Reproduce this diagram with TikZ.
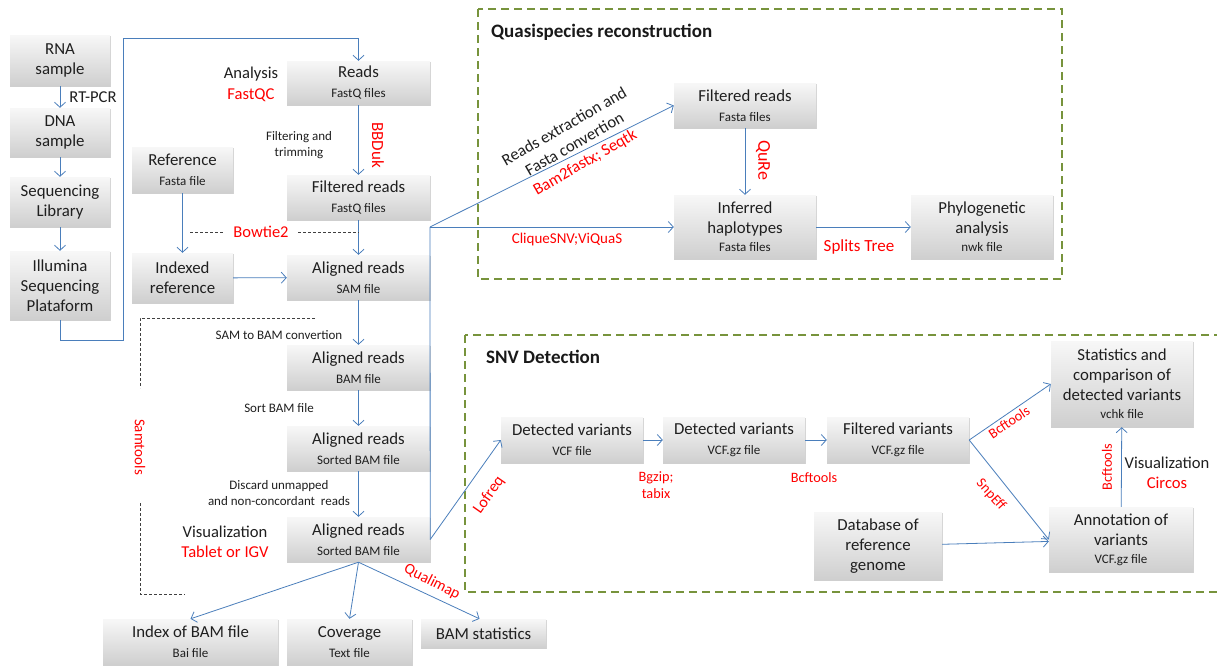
\documentclass[tikz,border=0pt]{standalone}
\usepackage{fontspec}
\setmainfont{Carlito}
\usetikzlibrary{arrows.meta,shadows}
\definecolor{lblue}{HTML}{4A7EBB}
\definecolor{dgreen}{HTML}{77933C}
\definecolor{tred}{HTML}{FF0000}
\newcommand{\subt}[1]{{\fontsize{13}{15}\selectfont #1}}
\begin{document}
\begin{tikzpicture}[x=1pt,y=-1pt,
 box/.style={rectangle, top color=gray!6, bottom color=gray!38, draw=none,
   drop shadow={shadow xshift=1.2pt,shadow yshift=-1.2pt,opacity=0.35,fill=gray},
   align=center, inner sep=1pt, font=\fontsize{16.8}{20}\selectfont, text=black!88},
 link/.style={draw=lblue, line width=0.8pt, -{Straight Barb[length=5pt,width=11pt]}},
 plain/.style={draw=lblue, line width=0.8pt},
 tool/.style={text=tred, font=\fontsize{16.5}{19}\selectfont, inner sep=0pt, align=center},
 smalltool/.style={text=tred, font=\fontsize{14.3}{17}\selectfont, inner sep=0pt, align=center},
 note/.style={text=black!88, font=\fontsize{13}{16}\selectfont, align=center, inner sep=0pt},
 big/.style={text=black!88, font=\fontsize{16.6}{20}\selectfont, inner sep=0pt, align=center},
 guide/.style={draw=black!75, densely dashed, line width=0.6pt},
 group/.style={draw=dgreen, line width=2pt, dash pattern=on 8pt off 5pt},
 grouptitle/.style={font=\bfseries\fontsize{19}{22}\selectfont, anchor=west, inner sep=0pt, text=black!90}
]
\useasboundingbox (0,0) rectangle (1217,667);

% group frames
\draw[group] (478,9) rectangle (1062,279);
\draw[group] (465,335) rectangle (1230,592);
\node[grouptitle] (tq) at (491,32) {Quasispecies reconstruction};
\node[grouptitle] (ts) at (486,357) {SNV Detection};

% left column
\node[box, minimum width=100pt, minimum height=51pt] (rna) at (60,60.5) {RNA\\sample};
\node[box, minimum width=100pt, minimum height=49pt] (dna) at (60,132.5) {DNA\\sample};
\node[box, minimum width=100pt, minimum height=50pt] (lib) at (60,202) {Sequencing\\Library};
\node[box, minimum width=100pt, minimum height=69pt] (illu) at (60,285.5) {Illumina\\Sequencing\\Plataform};

\node[box, minimum width=101pt, minimum height=46pt] (ref) at (182.5,170) {Reference\\\subt{Fasta file}};
\node[box, minimum width=101pt, minimum height=50pt] (idx) at (182.5,278) {Indexed\\reference};

% central column
\node[box, minimum width=143pt, minimum height=44pt] (reads) at (358.5,83) {Reads\\\subt{FastQ files}};
\node[box, minimum width=143pt, minimum height=45pt] (freads) at (358.5,197.5) {Filtered reads\\\subt{FastQ files}};
\node[box, minimum width=143pt, minimum height=45pt] (sam) at (358.5,277.5) {Aligned reads\\\subt{SAM file}};
\node[box, minimum width=143pt, minimum height=45pt] (bam) at (358.5,367.5) {Aligned reads\\\subt{BAM file}};
\node[box, minimum width=143pt, minimum height=45pt] (sorted) at (358.5,448.5) {Aligned reads\\\subt{Sorted BAM file}};
\node[box, minimum width=143pt, minimum height=45pt] (final) at (358.5,539.5) {Aligned reads\\\subt{Sorted BAM file}};

\node[box, minimum width=175pt, minimum height=46pt] (bai) at (190.5,642) {Index of BAM file\\\subt{Bai file}};
\node[box, minimum width=125pt, minimum height=46pt] (cov) at (349.5,642) {Coverage\\\subt{Text file}};
\node[box, minimum width=125pt, minimum height=29pt] (bstat) at (483.5,633.5) {BAM statistics};

% quasispecies
\node[box, minimum width=142pt, minimum height=45pt] (fasta) at (745,105.5) {Filtered reads\\\subt{Fasta files}};
\node[box, minimum width=142pt, minimum height=64pt] (hap) at (745,227) {Inferred\\haplotypes\\[-2pt]\subt{Fasta files}};
\node[box, minimum width=142pt, minimum height=64pt] (phylo) at (982,227) {Phylogenetic\\analysis\\[-2pt]\subt{nwk file}};

% SNV
\node[box, minimum width=142pt, minimum height=46pt] (dv1) at (572,440) {Detected variants\\\subt{VCF file}};
\node[box, minimum width=142pt, minimum height=46pt] (dv2) at (734,440) {Detected variants\\\subt{VCF.gz file}};
\node[box, minimum width=142pt, minimum height=46pt] (fv) at (898,440) {Filtered variants\\\subt{VCF.gz file}};
\node[box, minimum width=128pt, minimum height=68pt] (db) at (878,546) {Database of\\reference\\genome};
\node[box, minimum width=142pt, minimum height=86pt] (st) at (1122,384) {Statistics and\\comparison of\\detected variants\\[-2pt]\subt{vchk file}};
\node[box, minimum width=144pt, minimum height=65pt] (ann) at (1121,539.5) {Annotation of\\variants\\[-2pt]\subt{VCF.gz file}};

% coordinates
\coordinate (c1) at (60,340);
\coordinate (c2) at (123,340);
\coordinate (c3) at (123,38);
\coordinate (c4) at (358.5,38);
\coordinate (br) at (430,227);
\coordinate (b1) at (190,232);
\coordinate (b2) at (224,232);
\coordinate (b3) at (298,232);
\coordinate (b4) at (358.5,232);
\coordinate (s1) at (315,318);
\coordinate (s2) at (140,318);
\coordinate (s3) at (140,388);
\coordinate (s4) at (140,503);
\coordinate (s5) at (140,594);
\coordinate (s6) at (185,594);

% connectors
\draw[link] (rna) -- (dna);
\draw[link] (dna) -- (lib);
\draw[link] (lib) -- (illu);
\draw[link] (illu.south) -- (c1) -- (c2) -- (c3) -- (c4) -- (reads.north);
\draw[link] (reads) -- (freads);
\draw[link] (freads) -- (sam);
\draw[link] (ref) -- (idx);
\draw[link] (idx) -- (sam);
\draw[link] (sam) -- (bam);
\draw[link] (bam) -- (sorted);
\draw[link] (sorted) -- (final);
\draw[link] (final.south) -- (bai.north);
\draw[link] (final.south) -- (cov.north);
\draw[link] (final.south) -- ([xshift=-4pt]bstat.north);
\draw[plain] (final.east) -- (br);
\draw[link] (br) -- (fasta.west);
\draw[link] (br) -- (hap.west);
\draw[link] (fasta) -- (hap);
\draw[link] (hap) -- (phylo);
\draw[link] (final.east) -- (dv1.west);
\draw[link] (dv1) -- (dv2);
\draw[link] (dv2) -- (fv);
\draw[link] (fv.east) -- (st.west);
\draw[link] (fv.east) -- (ann.west);
\draw[link] (db) -- (ann);
\draw[link] (ann) -- (st);

% guides
\draw[guide] (b1) -- (b2);
\draw[guide] (b3) -- (b4);
\draw[guide] (s1) -- (s2) -- (s3);
\draw[guide] (s4) -- (s5) -- (s6);

% labels
\node[big] (lrt) at (93,97) {RT-PCR};
\node[big, font=\fontsize{16.6}{21}\selectfont] (lan) at (251,84) {Analysis\\\textcolor{tred}{FastQC}};
\node[note] (lft) at (299,145) {Filtering and\\trimming};
\node[tool, rotate=-90, font=\fontsize{17}{19}\selectfont] (lbb) at (378,145) {BBDuk};
\node[tool] (lbw) at (261,232) {Bowtie2};
\node[note] (lsb) at (279,335) {SAM to BAM convertion};
\node[note] (lso) at (279,408) {Sort BAM file};
\node[note] (ldi) at (279,493) {Discard unmapped\\and non-concordant\ \ reads};
\node[big, font=\fontsize{16.6}{20}\selectfont] (lvi) at (225,542) {Visualization\\\textcolor{tred}{Tablet or IGV}};
\node[tool, rotate=-90, font=\fontsize{15}{18}\selectfont] (lsa) at (140,447) {Samtools};
\node[tool, rotate=-27, font=\fontsize{15.4}{18}\selectfont] (lqm) at (432,582) {Qualimap};

\node[big, rotate=30, font=\fontsize{16.6}{20.5}\selectfont] (lre) at (575,145) {Reads extraction and\\Fasta convertion\\\textcolor{tred}{Bam2fastx; Seqtk}};
\node[tool, rotate=-90, font=\fontsize{18}{20}\selectfont] (lqr) at (763,160) {QuRe};
\node[tool, font=\fontsize{15}{18}\selectfont] (lcq) at (567,239) {CliqueSNV;ViQuaS};
\node[tool, font=\fontsize{17}{19}\selectfont] (lsp) at (859,247) {Splits Tree};

\node[tool, rotate=55, font=\fontsize{16}{19}\selectfont] (llo) at (489,495) {Lofreq};
\node[smalltool] (lbg) at (656,485) {Bgzip;\\tabix};
\node[smalltool] (lbc) at (814,478) {Bcftools};
\node[smalltool, rotate=34] (lbc2) at (1009,422) {Bcftools};
\node[smalltool, rotate=-48] (lse) at (991,495) {SnpEff};
\node[smalltool, rotate=90] (lbc3) at (1107,467) {Bcftools};
\node[big, font=\fontsize{16.6}{20}\selectfont] (lvz) at (1167,473) {Visualization\\\textcolor{tred}{Circos}};
\end{tikzpicture}
\end{document}
